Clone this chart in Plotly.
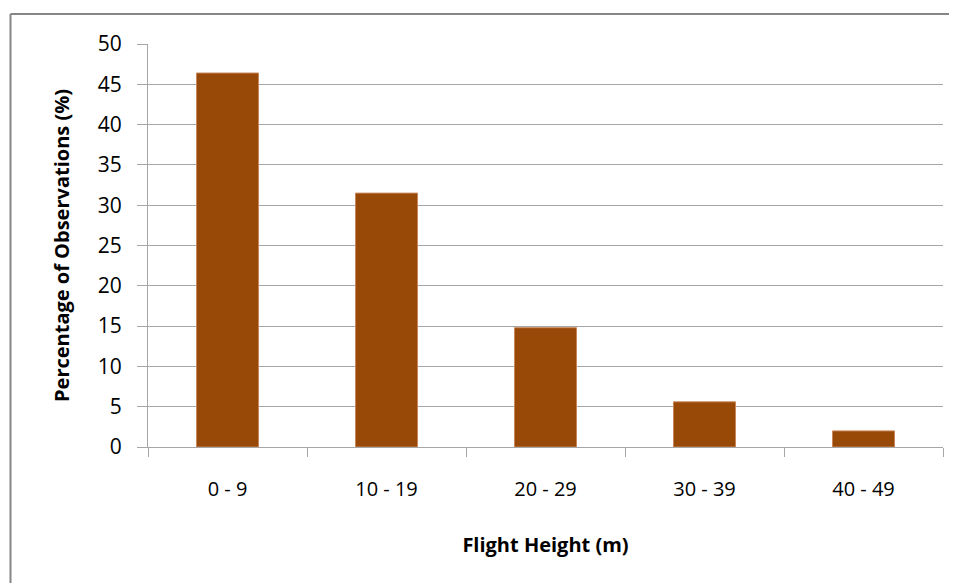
import plotly.graph_objects as go

categories = ["0 - 9", "10 - 19", "20 - 29", "30 - 39", "40 - 49"]
values = [46.4, 31.5, 14.8, 5.6, 2.0]
y_ticks = [0, 5, 10, 15, 20, 25, 30, 35, 40, 45, 50]

# page body has an 8px margin, so the figure is sized to fit the window
W, H = 949, 575
ml, mr, mt, mb = 140, 14, 36, 136

fig = go.Figure(go.Bar(
    x=categories, y=values,
    marker=dict(color="#984807", line=dict(color="#C8875A", width=1)),
))

grid = "#A6A6A6"
font = "Open Sans, Liberation Sans, sans-serif"

fig.update_layout(
    width=W, height=H,
    margin=dict(l=ml, r=mr, t=mt, b=mb),
    paper_bgcolor="white", plot_bgcolor="white",
    bargap=0.61,
    showlegend=False,
    font=dict(family=font, size=20, color="#000000"),
    xaxis=dict(
        type="category", tickson="boundaries",
        ticks="outside", ticklen=9, tickcolor=grid, tickwidth=1,
        showline=True, linecolor=grid, linewidth=1,
        showgrid=False, ticklabelstandoff=24,
        tickfont=dict(size=20),
        title=dict(text="<b>Flight Height (m)</b>", font=dict(size=20), standoff=36),
    ),
    yaxis=dict(
        range=[0, 50], tickvals=y_ticks,
        ticks="outside", ticklen=10, tickcolor=grid, tickwidth=1,
        showline=True, linecolor=grid, linewidth=1,
        showgrid=True, gridcolor=grid, gridwidth=1,
        zeroline=False, ticklabelstandoff=11,
        tickfont=dict(size=21),
        title=dict(text="<b>Percentage of Observations (%)</b>", font=dict(size=20), standoff=22),
    ),
)

# outer chart border (only top and left edges visible in the original)
pw, ph = W - ml - mr, H - mt - mb
bx0 = (2.5 - ml) / pw
by1 = (H - 6 - mb) / ph
fig.add_shape(type="line", xref="paper", yref="paper",
              x0=bx0, x1=1 + (mr + 10) / pw, y0=by1, y1=by1,
              line=dict(color="#868686", width=2), layer="below")
fig.add_shape(type="line", xref="paper", yref="paper",
              x0=bx0, x1=bx0, y0=-(mb + 10) / ph, y1=by1,
              line=dict(color="#868686", width=2), layer="below")

fig.write_html("out.html")
